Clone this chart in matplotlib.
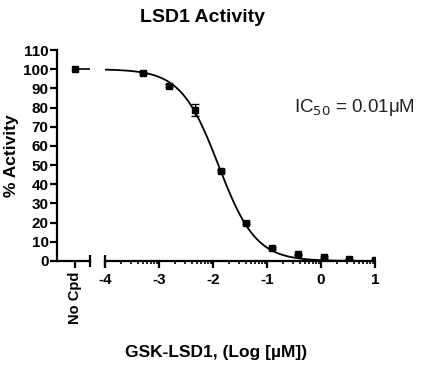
import numpy as np
import matplotlib
matplotlib.use("Agg")
import matplotlib.pyplot as plt
from matplotlib.ticker import FixedLocator

plt.rcParams['font.family'] = ['Liberation Sans', 'DejaVu Sans']
plt.rcParams['axes.unicode_minus'] = False

## Data
log_conc = [-3.29, -2.81, -2.34, -1.86, -1.38, -0.91, -0.43, 0.05, 0.52, 1.0]
activity = [98.0, 91.3, 78.6, 46.9, 19.8, 6.9, 3.4, 2.2, 1.0, 0.5]
act_err = [0.4, 0.8, 3.0, 0.4, 0.4, 0.4, 0.4, 0.4, 0.3, 0.3]
no_cpd = 100.0

# 4-parameter logistic fit
top = 100.0
bottom = 0.0
log_ic50 = -1.9
hill = 1.25

y_ticks = list(range(0, 111, 10))
x_ticks = [-4, -3, -2, -1, 0, 1]

W, H = 426, 370
fig = plt.figure(figsize=(W/100, H/100), dpi=100)

def box(l, r, t, b):
    return [l/W, 1-b/H, (r-l)/W, (b-t)/H]

ax1 = fig.add_axes(box(57, 90, 50, 261))
ax2 = fig.add_axes(box(105, 375, 50, 261))

lw = 1.6
# No compound panel
ax1.plot([0.55], [no_cpd], 's', color='black', ms=5)
ax1.plot([0.55, 1.0], [no_cpd, no_cpd], color='black', lw=1.2)
ax1.set_xlim(0, 1)
ax1.set_ylim(0, 110)
ax1.set_yticks(y_ticks)
ax1.set_xticks([0.55])
ax1.set_xticklabels(['No Cpd'], rotation=90, fontsize=10.5, fontweight='bold')
for s in ['top', 'right']:
    ax1.spines[s].set_visible(False)
for s in ['left', 'bottom']:
    ax1.spines[s].set_linewidth(lw)
ax1.tick_params(axis='y', direction='out', length=5, width=lw, labelsize=11, pad=1)
ax1.tick_params(axis='x', direction='out', length=5, width=lw, pad=3)
for lab in ax1.get_yticklabels():
    lab.set_fontweight('bold')
ax1.plot([1.0], [0], marker='|', color='black', ms=9, mew=lw, clip_on=False)
ax1.set_ylabel('% Activity', fontsize=12.5, fontweight='bold', labelpad=3)

# Dose-response panel
xs = np.linspace(-4, 1, 300)
fit = bottom + (top - bottom) / (1 + 10 ** (hill * (xs - log_ic50)))
ax2.plot(xs, fit, color='black', lw=1.3)
ax2.errorbar(log_conc, activity, yerr=act_err, fmt='s', color='black', ms=5,
             capsize=3, elinewidth=1, capthick=1)
ax2.set_xlim(-4, 1)
ax2.set_ylim(0, 110)
ax2.set_xticks(x_ticks)
minor = [d + np.log10(k) for d in range(-4, 1) for k in range(2, 10)]
ax2.xaxis.set_minor_locator(FixedLocator(minor))
ax2.set_yticks([])
for s in ['top', 'right', 'left']:
    ax2.spines[s].set_visible(False)
ax2.spines['bottom'].set_linewidth(lw)
ax2.tick_params(axis='x', which='major', direction='out', length=5, width=lw,
                labelsize=11, pad=4)
ax2.tick_params(axis='x', which='minor', direction='out', length=2.5, width=1.2)
for lab in ax2.get_xticklabels():
    lab.set_fontweight('bold')
ax2.plot([-4], [0], marker='|', color='black', ms=9, mew=lw, clip_on=False)
ax2.patch.set_visible(False)

ax2.text(354/W, 1-108/H, 'IC$_{50}$ = 0.01\u03bcM', transform=fig.transFigure,
         fontsize=13.5, ha='center', va='center', color='#222222')

fig.text(203/W, 1-18/H, 'LSD1 Activity', fontsize=14, fontweight='bold',
         ha='center', va='center')
fig.text(216/W, 1-352/H, 'GSK-LSD1, (Log [\u00b5M])', fontsize=12.5,
         fontweight='bold', ha='center', va='center')

fig.savefig('out.png', dpi=100)
